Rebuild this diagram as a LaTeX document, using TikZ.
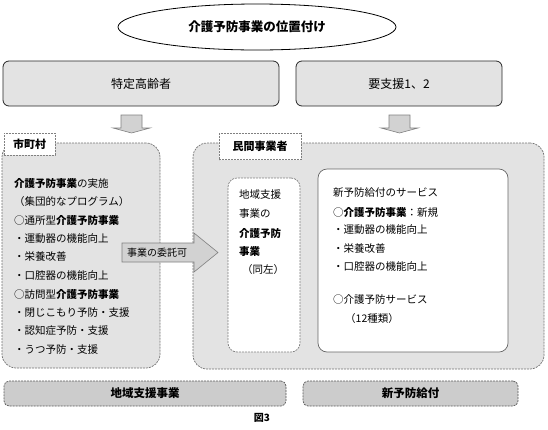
\documentclass[tikz,border=0pt]{standalone}
\usepackage{fontspec}
\setmainfont{Noto Sans CJK JP}
\usetikzlibrary{positioning, shapes.geometric}

\begin{document}
\begin{tikzpicture}[
  x=1pt, y=-1pt,
  every node/.style={inner sep=0pt, font=\fontsize{10.5}{12}\selectfont},
  topbox/.style={draw=black!85, line width=0.8pt, rounded corners=6pt, fill=gray!22, minimum height=45pt, font=\fontsize{12}{14}\selectfont},
  bigbox/.style={draw=black!55, line width=0.7pt, dash pattern=on 2pt off 1pt, rounded corners=14pt, fill=gray!22},
  tag/.style={draw=gray, line width=0.6pt, dash pattern=on 2pt off 1pt, fill=white, font=\bfseries\fontsize{11}{13}\selectfont},
  innerbox/.style={draw=black!60, line width=0.7pt, fill=white, rounded corners=9pt},
  footbox/.style={draw=black!65, line width=0.7pt, dash pattern=on 2pt off 1pt, rounded corners=5pt, fill=gray!40, minimum height=25pt, font=\bfseries\fontsize{11.5}{13}\selectfont},
  blockarrow/.style={draw=gray, line width=0.6pt, fill=gray!35},
  item/.style={anchor=west}
]
  \useasboundingbox (0,0) rectangle (548,429);

  % Title
  \node[draw, line width=0.8pt, ellipse, fill=white, minimum width=278pt, minimum height=46pt,
        font=\bfseries\fontsize{12.5}{14}\selectfont] (title) at (257,27) {介護予防事業の位置付け};

  % Target groups
  \node[topbox, minimum width=276pt] (koureisha) at (141,83.5) {特定高齢者};
  \node[topbox, minimum width=206pt] (youshien) at (399,83.5) {要支援1、2};

  \draw[blockarrow] (121,115) -- (142,115) -- (142,128) -- (150,128) -- (131.5,133)
    -- (113,128) -- (121,128) -- cycle;
  \draw[blockarrow] (389,115) -- (410,115) -- (410,128) -- (418,128) -- (399.5,133)
    -- (381,128) -- (389,128) -- cycle;

  % Municipal side
  \node[bigbox, minimum width=158pt, minimum height=225pt] (shichoson) at (81,255.5) {};
  \node[tag, minimum width=51pt, minimum height=22pt] (shichosonTag) at (29.5,144) {市町村};

  \node[item] (s1) at (14,183) {\textbf{介護予防事業}の実施};
  \node[item] (s2) at (14,201.5) {（集団的なプログラム）};
  \node[item] (s3) at (14,220) {○通所型\textbf{介護予防事業}};
  \node[item] (s4) at (14,238.5) {・運動器の機能向上};
  \node[item] (s5) at (14,257) {・栄養改善};
  \node[item] (s6) at (14,275.5) {・口腔器の機能向上};
  \node[item] (s7) at (14,294) {○訪問型\textbf{介護予防事業}};
  \node[item] (s8) at (14,312.5) {・閉じこもり予防・支援};
  \node[item] (s9) at (14,331) {・認知症予防・支援};
  \node[item] (s10) at (14,349.5) {・うつ予防・支援};

  % Private providers
  \node[bigbox, minimum width=351pt, minimum height=226pt] (minkan) at (368.5,256) {};
  \node[tag, minimum width=82pt, minimum height=26pt] (minkanTag) at (260,146.5) {民間事業者};

  \node[innerbox, draw=gray, dash pattern=on 2pt off 1pt, minimum width=72pt, minimum height=174pt] (chiiki) at (264,265) {};
  \node[item] (c1) at (239,195) {地域支援};
  \node[item] (c2) at (239,214) {事業の};
  \node[item] (c3) at (239,233) {\textbf{介護予防}};
  \node[item] (c4) at (239,252) {\textbf{事業}};
  \node[item] (c5) at (242,270) {（同左）};

  \node[innerbox, minimum width=190pt, minimum height=183pt] (shinyobou) at (413,260.5) {};
  \node[item] (n1) at (333,193) {新予防給付のサービス};
  \node[item] (n2) at (333,212) {○\textbf{介護予防事業}：新規};
  \node[item] (n3) at (333,230) {・運動器の機能向上};
  \node[item] (n4) at (333,248.5) {・栄養改善};
  \node[item] (n5) at (333,267) {・口腔器の機能向上};
  \node[item] (n6) at (333,300) {○介護予防サービス};
  \node[item] (n7) at (345,319) {（12種類）};

  % Entrustment arrow
  \draw[blockarrow] (122,243) -- (194,243) -- (194,233) -- (218,252.5) -- (194,272)
    -- (194,262) -- (122,262) -- cycle;
  \node[font=\fontsize{10}{12}\selectfont] (itaku) at (157,252.5) {事業の委託可};

  % Bottom labels
  \node[footbox, minimum width=282pt] (chiikiJigyo) at (145,393.5) {地域支援事業};
  \node[footbox, minimum width=215pt] (shinKyufu) at (410.5,393.5) {新予防給付};

  \node[font=\bfseries\fontsize{10}{12}\selectfont] (caption) at (262,418) {図3};
\end{tikzpicture}
\end{document}
